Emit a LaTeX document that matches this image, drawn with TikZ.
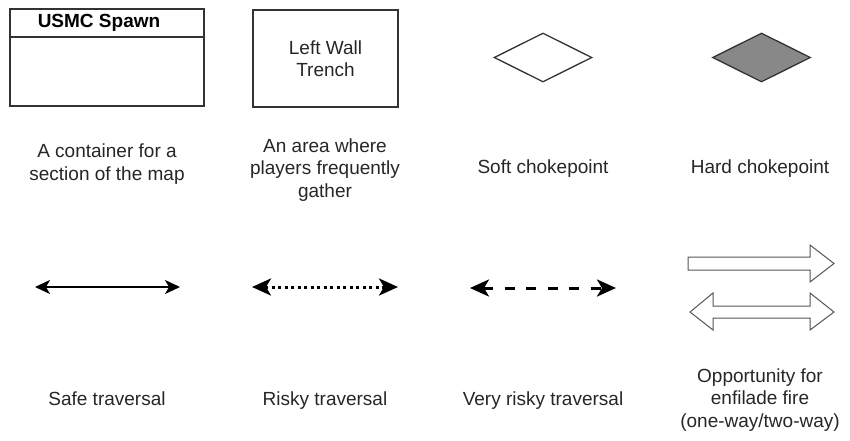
\documentclass[tikz,border=0pt]{standalone}
\usepackage{fontspec}
\setmainfont{Liberation Sans}
\usepackage{xcolor}
\usetikzlibrary{arrows.meta,positioning,shapes.geometric}
\definecolor{edge}{HTML}{333333}
\definecolor{hardfill}{HTML}{888888}
\definecolor{blockedge}{HTML}{555555}

\begin{document}
\begin{tikzpicture}[x=1pt, y=-1pt,
    every node/.style={font=\fontsize{19}{22.5}\selectfont, text=black!85},
    box/.style={rectangle, draw=edge, line width=1.3pt, inner sep=0pt, align=center},
    choke/.style={diamond, draw=edge, line width=1.3pt, inner sep=0pt, minimum width=98pt, minimum height=49pt},
    lbl/.style={anchor=base, align=center, inner sep=0pt},
    safearrow/.style={{Stealth[length=15pt,width=14pt,inset=4pt]}-{Stealth[length=15pt,width=14pt,inset=4pt]}, line width=1.5pt},
    riskyarrow/.style={{Stealth[length=19pt,width=17pt,inset=5pt]}-{Stealth[length=19pt,width=17pt,inset=5pt]}, line width=3pt},
    blockarrow/.style={draw=blockedge, fill=white, line width=1pt, line join=miter}
]
\useasboundingbox (0,0) rectangle (850,440);

% top row: shapes
\node[box, minimum width=194pt, minimum height=97pt] (spawn) at (107,57.5) {};
\draw[edge, line width=1.3pt] (spawn.west |- 0,37) -- (spawn.east |- 0,37);
\node[font=\fontsize{19}{22.5}\selectfont\bfseries, text=black] (spawntitle) at (99,23) {USMC Spawn};
\node[box, minimum width=145pt, minimum height=97pt] (trench) at (325.5,58.5) {Left Wall\\Trench};
\node[choke, fill=white] (soft) at (543,57.5) {};
\node[choke, fill=hardfill] (hard) at (761.5,57.5) {};

% top row: labels (base = last line)
\node[lbl] (contlbl) at (107,180) {A container for a\\section of the map};
\node[lbl] (arealbl) at (325,197) {An area where\\players frequently\\gather};
\node[lbl] (softlbl) at (543,173) {Soft chokepoint};
\node[lbl] (hardlbl) at (760,173) {Hard chokepoint};

% bottom row: traversals
\coordinate (safeL) at (35,287);
\coordinate (safeR) at (180,287);
\coordinate (riskyL) at (252,287);
\coordinate (riskyR) at (398,287);
\coordinate (vriskyL) at (470,288);
\coordinate (vriskyR) at (616,288);
\draw[safearrow] (safeL) -- (safeR);
\draw[riskyarrow, dash pattern=on 3pt off 3.5pt] (riskyL) -- (riskyR);
\draw[riskyarrow, dash pattern=on 10pt off 11.5pt] (vriskyL) -- (vriskyR);

% enfilade fire: one-way and two-way block arrows
\draw[blockarrow] (688,257) -- (810,257) -- (810,245) -- (834,263.5) -- (810,282)
    -- (810,270) -- (688,270) -- cycle;
\draw[blockarrow] (690,312) -- (713,293) -- (713,306) -- (810,306) -- (810,293)
    -- (834,312) -- (810,330) -- (810,318) -- (713,318) -- (713,330) -- cycle;

% bottom row: labels
\node[lbl] (safelbl) at (107,405) {Safe traversal};
\node[lbl] (riskylbl) at (325,405) {Risky traversal};
\node[lbl] (vriskylbl) at (543,405) {Very risky traversal};
\node[lbl] (enfillbl) at (760,427) {Opportunity for\\enfilade fire\\(one-way/two-way)};
\end{tikzpicture}
\end{document}
